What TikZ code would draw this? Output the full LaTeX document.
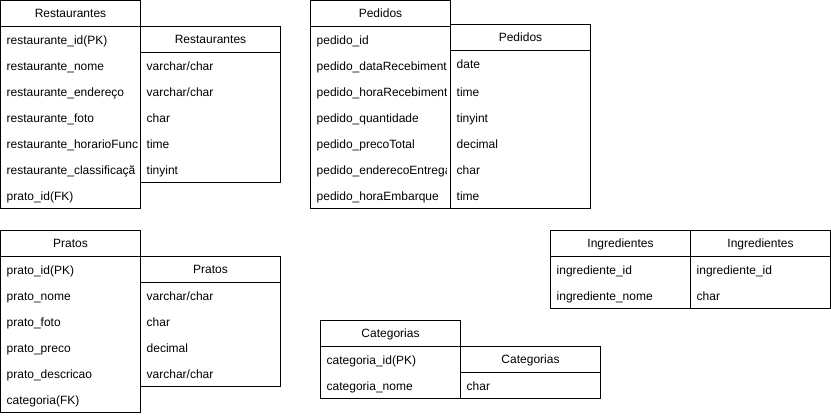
\documentclass[tikz,border=0pt]{standalone}
\usepackage{fontspec}
\setmainfont{Liberation Sans}
\tikzset{
  tbl/.style={draw, fill=white, line width=1pt},
  sep/.style={line width=1pt},
  hdr/.style={inner sep=0pt, text height=8.6pt, text depth=0pt},
  fld/.style={anchor=west, inner sep=0pt, text height=8.6pt, text depth=0pt},
}
\begin{document}
\begin{tikzpicture}[x=1pt, y=-1pt, font=\fontsize{12}{14}\selectfont]
\useasboundingbox (-0.5,-0.5) rectangle (830.5,415.5);

% Restaurantes
\draw[tbl] (0,0) rectangle (140,208);
\draw[sep] (0,26) -- (140,26);
\node[hdr] (resH) at (70,13) {Restaurantes};
\begin{scope}
  \clip (0,26) rectangle (137,208);
  \node[fld] (resA) at (6,40) {restaurante\_id(PK)};
  \node[fld] (resB) at (6,66) {restaurante\_nome};
  \node[fld] (resC) at (6,92) {restaurante\_endereço};
  \node[fld] (resD) at (6,118) {restaurante\_foto};
  \node[fld] (resE) at (6,144) {restaurante\_horarioFunc};
  \node[fld] (resF) at (6,170) {restaurante\_classificaçã};
  \node[fld] (resG) at (6,196) {prato\_id(FK)};
\end{scope}

\draw[tbl] (140,26) rectangle (280,182);
\draw[sep] (140,52) -- (280,52);
\node[hdr] (resTH) at (210,39) {Restaurantes};
\node[fld] (resTA) at (146,66) {varchar/char};
\node[fld] (resTB) at (146,92) {varchar/char};
\node[fld] (resTC) at (146,118) {char};
\node[fld] (resTD) at (146,144) {time};
\node[fld] (resTE) at (146,170) {tinyint};

% Pedidos
\draw[tbl] (310,0) rectangle (450,208);
\draw[sep] (310,26) -- (450,26);
\node[hdr] (pedH) at (380,13) {Pedidos};
\begin{scope}
  \clip (310,26) rectangle (446,208);
  \node[fld] (pedA) at (316,40) {pedido\_id};
  \node[fld] (pedB) at (316,66) {pedido\_dataRecebiment};
  \node[fld] (pedC) at (316,92) {pedido\_horaRecebiment};
  \node[fld] (pedD) at (316,118) {pedido\_quantidade};
  \node[fld] (pedE) at (316,144) {pedido\_precoTotal};
  \node[fld] (pedF) at (316,170) {pedido\_enderecoEntrega};
  \node[fld] (pedG) at (316,196) {pedido\_horaEmbarque};
\end{scope}

\draw[tbl] (450,24) rectangle (590,208);
\draw[sep] (450,50) -- (590,50);
\node[hdr] (pedTH) at (520,37) {Pedidos};
\node[fld] (pedTA) at (456,64) {date};
\node[fld] (pedTB) at (456,91.5) {time};
\node[fld] (pedTC) at (456,118) {tinyint};
\node[fld] (pedTD) at (456,144) {decimal};
\node[fld] (pedTE) at (456,170) {char};
\node[fld] (pedTF) at (456,196) {time};

% Pratos
\draw[tbl] (0,230) rectangle (140,412);
\draw[sep] (0,256) -- (140,256);
\node[hdr] (praH) at (70,243) {Pratos};
\node[fld] (praA) at (6,270) {prato\_id(PK)};
\node[fld] (praB) at (6,296) {prato\_nome};
\node[fld] (praC) at (6,322) {prato\_foto};
\node[fld] (praD) at (6,348) {prato\_preco};
\node[fld] (praE) at (6,374) {prato\_descricao};
\node[fld] (praF) at (6,400) {categoria(FK)};

\draw[tbl] (140,256) rectangle (280,386);
\draw[sep] (140,282) -- (280,282);
\node[hdr] (praTH) at (210,269) {Pratos};
\node[fld] (praTA) at (146,296) {varchar/char};
\node[fld] (praTB) at (146,322) {char};
\node[fld] (praTC) at (146,348) {decimal};
\node[fld] (praTD) at (146,374) {varchar/char};

% Ingredientes
\draw[tbl] (550,230) rectangle (690,308);
\draw[sep] (550,256) -- (690,256);
\node[hdr] (ingH) at (620,243) {Ingredientes};
\node[fld] (ingA) at (556,270) {ingrediente\_id};
\node[fld] (ingB) at (556,296) {ingrediente\_nome};

\draw[tbl] (690,230) rectangle (830,308);
\draw[sep] (690,256) -- (830,256);
\node[hdr] (ingTH) at (760,243) {Ingredientes};
\node[fld] (ingTA) at (696,270) {ingrediente\_id};
\node[fld] (ingTB) at (696,296) {char};

% Categorias
\draw[tbl] (320,320) rectangle (460,398);
\draw[sep] (320,346) -- (460,346);
\node[hdr] (catH) at (390,333) {Categorias};
\node[fld] (catA) at (326,360) {categoria\_id(PK)};
\node[fld] (catB) at (326,386) {categoria\_nome};

\draw[tbl] (460,346) rectangle (600,398);
\draw[sep] (460,372) -- (600,372);
\node[hdr] (catTH) at (530,359) {Categorias};
\node[fld] (catTA) at (466,386) {char};
\end{tikzpicture}
\end{document}
